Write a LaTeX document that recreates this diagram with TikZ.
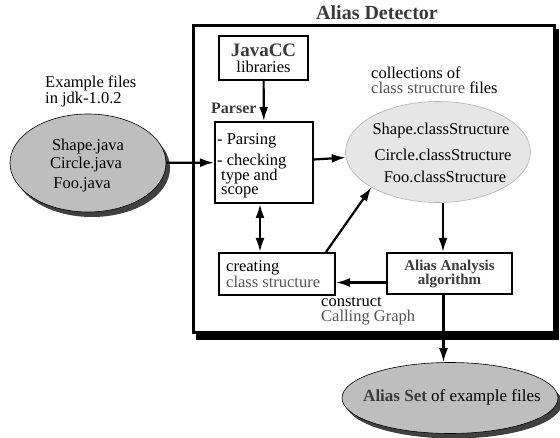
\documentclass[tikz,border=0pt]{standalone}
\usepackage{fontspec}
\setmainfont{Liberation Serif}
\usetikzlibrary{positioning}
\usetikzlibrary{arrows.meta}
\usetikzlibrary{shapes.geometric}
\usetikzlibrary{shadows}
\usetikzlibrary{calc}

\definecolor{labelgray}{HTML}{555555}
\definecolor{titlegray}{HTML}{3A3A3A}
\definecolor{ovalgray}{HTML}{BEBEBE}
\definecolor{lightoval}{HTML}{E6E6E6}

\begin{document}
\begin{tikzpicture}[x=1pt, y=-1pt, font=\fontsize{16.5}{15}\selectfont,
    box/.style={draw, line width=2pt, fill=white, inner sep=0pt},
    txt/.style={inner sep=0pt, align=left, anchor=west},
    arr/.style={line width=2.2pt, -{Latex[length=14pt,width=9pt]}},
    shadowoval/.style={ellipse, draw, line width=0.6pt, fill=ovalgray, inner sep=0pt,
      drop shadow={shadow xshift=4pt, shadow yshift=-5pt, fill=black!75, opacity=1}}]
        \useasboundingbox (0,0) rectangle (560,438);

        % frame of the detector
        \fill (196,29) rectangle (559,340);
        \draw[line width=3pt, fill=white] (193,26) rectangle (554,333);
        \node[font=\fontsize{20}{20}\selectfont\bfseries, text=titlegray] (title) at (377,13) {Alias Detector};

        % input files
        \node[txt, font=\fontsize{16.5}{14}\selectfont] (exlabel) at (45,91) {Example files\\in jdk-1.0.2};
        \node[shadowoval, minimum width=156pt, minimum height=98pt] (files) at (88,163) {};
        \node[inner sep=0pt] (f1) at (88,147) {Shape.java};
        \node[inner sep=0pt] (f2) at (86,165) {Circle.java};
        \node[inner sep=0pt] (f3) at (82,185) {Foo.java};

        % boxes
        \node[box, minimum width=89pt, minimum height=44pt] (javacc) at (263.5,58) {};
        \node[inner sep=0pt, font=\fontsize{19}{14}\selectfont\bfseries, text=titlegray] (javacclabel) at (263.5,50) {JavaCC};
        \node[inner sep=0pt] (liblabel) at (263.5,67) {libraries};
        \node[box, minimum width=98pt, minimum height=81pt] (parser) at (264,162.5) {};
        \node[txt] (p1) at (217,141) {- Parsing};
        \node[txt, anchor=base west] (p2) at (217,166) {- checking};
        \node[txt, anchor=base west] (p3) at (221,180.5) {type and};
        \node[txt, anchor=base west] (p4) at (221,195) {scope};
        \node[txt, font=\fontsize{16}{12}\selectfont\bfseries, text=titlegray] (parserlabel) at (211,108) {Parser};

        \node[box, minimum width=116pt, minimum height=42pt] (creating) at (277,274) {};
        \node[txt, font=\fontsize{16.5}{13.5}\selectfont] (c1) at (226,274) {creating\\{\color{labelgray}class structure}};

        \node[box, minimum width=125pt, minimum height=41pt, align=center,
          font=\fontsize{15}{14}\selectfont\bfseries, text=titlegray] (alias) at (449.5,273.5)
          {Alias Analysis\\algorithm};

        % class structure files
        \node[txt] (clabel) at (371,80) {collections of\\{\color{labelgray}class structure} files};
        \node[ellipse, draw=black!30, line width=0.6pt, fill=lightoval,
          minimum width=185pt, minimum height=101pt] (classes) at (438,152) {};
        \node[inner sep=0pt] (s1) at (441,131) {Shape.classStructure};
        \node[inner sep=0pt] (s2) at (443,155) {Circle.classStructure};
        \node[inner sep=0pt] (s3) at (445,177) {Foo.classStructure};

        \node[txt] (glabel) at (321,311) {construct\\{\color{labelgray}Calling Graph}};

        % result
        \node[shadowoval, minimum width=216pt, minimum height=71pt] (aliasset) at (450,398) {};
        \node[inner sep=0pt, font=\fontsize{17}{15}\selectfont] (setlabel) at (452,397)
          {{\bfseries\color{titlegray}Alias Set} of example files};

        % connectors
        \draw[arr] (javacc) -- (parser);
        \draw[arr] (files) -- (parser);
        \draw[arr] (parser) -- (classes);
        \draw[arr, {Latex[length=14pt,width=9pt]}-{Latex[length=14pt,width=9pt]}]
          ([xshift=-4pt]parser.south) -- ([xshift=-4pt]parser.south |- creating.north);
        \draw[arr] ([xshift=-10pt]creating.north east) -- (classes.208);
        \draw[arr] ([xshift=5pt]classes.south) -- ([xshift=5pt]classes.south |- alias.north);
        \draw[arr] ([yshift=-9pt]alias.west) -- ([yshift=-9pt]alias.west -| creating.east);
        \draw[arr] ([xshift=-6pt]alias.south) -- ([xshift=-6pt]alias.south |- aliasset.north);
      \end{tikzpicture}
\end{document}
